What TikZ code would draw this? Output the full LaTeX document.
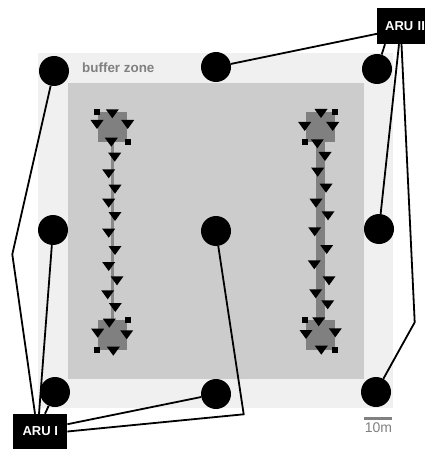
\documentclass[tikz,border=0pt]{standalone}
\usepackage{fontspec}
\setmainfont{Liberation Sans}
\usepackage{tikz}
\definecolor{bufferfill}{HTML}{F0F0F0}
\definecolor{plotfill}{HTML}{CCCCCC}
\definecolor{trackfill}{HTML}{808080}
\tikzset{
  mic/.style={circle,fill=black,minimum size=30pt,inner sep=0pt},
  aru/.style={fill=black,text=white,font=\bfseries\fontsize{13}{13}\selectfont,inner sep=0pt,minimum height=36pt},
  wire/.style={line width=1.8pt,black},
  graytext/.style={text=trackfill,font=\bfseries\fontsize{13.4}{14}\selectfont,inner sep=0pt},
  trap/.pic={\fill[black] (-6.5,-4) -- (6.5,-4) -- (0,5) -- cycle;},
  flag/.pic={\fill[black] (-3,-3) rectangle (3,3);}
}
\begin{document}
\begin{tikzpicture}[x=1pt,y=-1pt]
   \useasboundingbox (0,0) rectangle (424,449);
   \fill[bufferfill] (38,53) rectangle (393,408);
   \fill[plotfill] (68,83) rectangle (364,379);

   % squares and tracks
   \fill[trackfill] (97.7,112.3) rectangle (127.3,141.7);
   \fill[trackfill] (97.7,320.3) rectangle (127.3,349.7);
   \fill[trackfill] (305.7,112.3) rectangle (335,141.7);
   \fill[trackfill] (305.7,320.3) rectangle (335,350);
   \fill[trackfill!90!plotfill] (110.7,141) rectangle (114,321);
   \fill[trackfill] (316.3,141) rectangle (325,321);

   \foreach \x/\y in {112.3/113.3,97/124,127.7/124,111.3/141.7,114.7/156.7,108.7/173.3,115/188.7,
     108.7/202.7,115/216,108.7/232.7,115/250,108.7/266,117/280.3,107.7/294.3,115.3/307,
     109.3/322.7,97.7/332.7,126.7/334.3,113.3/350.7,
     321/113,304.7/126,332.7/126,317.3/143.3,325/156,317.7/171.7,326/187.7,316/202.7,328/215.3,
     314.7/231.3,326.7/249,314.3/264.3,329/280.3,315.7/293.3,327.7/304.3,
     318.7/321.3,306/334,335.3/332.3,321.3/349.7}
     \pic at (\x,\y) {trap};
   \foreach \x/\y in {97/111.7,127.7/142.3,127.7/319.7,97/350.3,
     335.3/111.7,304.7/142,304.7/319.7,335.3/350.3}
     \pic at (\x,\y) {flag};

   \draw (54,71) node[mic] (mic1) {};
   \draw (216,67) node[mic] (mic2) {};
   \draw (377,69) node[mic] (mic3) {};
   \draw (53,230) node[mic] (mic4) {};
   \draw (216,231) node[mic] (mic5) {};
   \draw (379,229) node[mic] (mic6) {};
   \draw (55,392) node[mic] (mic7) {};
   \draw (216,394) node[mic] (mic8) {};
   \draw (376,392) node[mic] (mic9) {};

   \draw (13,431.5) node[aru,anchor=west,minimum width=54pt,minimum height=35pt] (aru1) {ARU I};
   \draw (377,26) node[aru,anchor=west,minimum width=60pt,align=left,text width=52pt,inner xsep=8pt] (aru2) {ARU II};

   \draw (82,68) node[graytext,anchor=west] (bufferlabel) {buffer zone};
   \draw (378.5,428) node[graytext,font=\fontsize{14}{14}\selectfont] (scalelabel) {10m};
   \coordinate (scaleleft) at (364,418.5);
   \coordinate (scaleright) at (392,418.5);
   \draw[line width=2.5pt,trackfill] (scaleleft) -- (scaleright);

   \coordinate (bendleft) at (12.3,254.3);
   \coordinate (bendbottom) at (243.7,414.3);
   \coordinate (bendright) at (414.7,322.3);

   \draw[wire] (mic1) -- (bendleft) -- ([xshift=22pt]aru1.north west);
   \draw[wire] (mic4) -- ([xshift=26pt]aru1.north west);
   \draw[wire] (mic7) -- ([xshift=32pt]aru1.north west);
   \draw[wire] (mic8) -- (aru1.15);
   \draw[wire] (mic5) -- (bendbottom) -- (aru1.east);

   \draw[wire] (mic2) -- ([yshift=-26pt]aru2.north west);
   \draw[wire] (mic3) -- ([xshift=8pt]aru2.south west);
   \draw[wire] (mic6) -- ([xshift=22pt]aru2.south west);
   \draw[wire] (mic9) -- (bendright) -- ([xshift=24.5pt]aru2.south west);
\end{tikzpicture}
\end{document}
